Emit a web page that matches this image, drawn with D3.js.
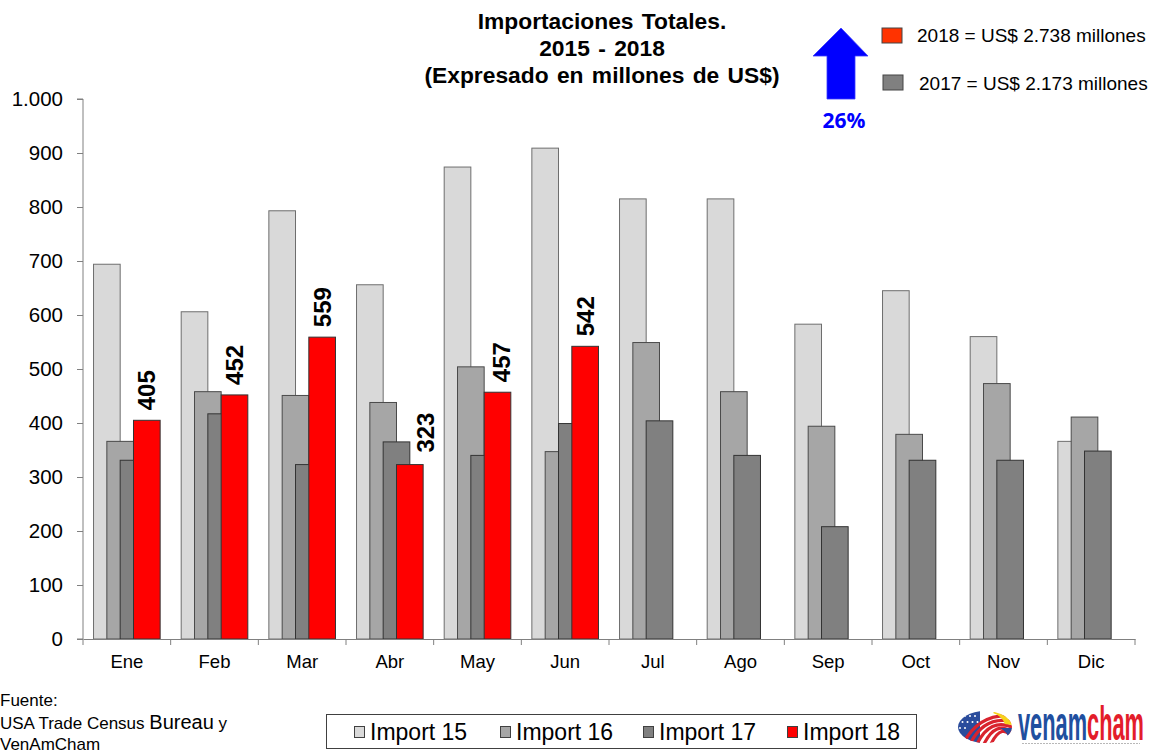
<!DOCTYPE html>
<html>
<head>
<meta charset="utf-8">
<script src="https://cdn.jsdelivr.net/npm/d3@7"></script>
<style>
  html, body { margin: 0; padding: 0; background: #fff; }
  svg { display: block; }
</style>
</head>
<body>
<svg id="chart" width="1153" height="754"></svg>
<script>
// ---------- DATA ----------
const months = ["Ene","Feb","Mar","Abr","May","Jun","Jul","Ago","Sep","Oct","Nov","Dic"];
const seriesNames = ["Import 15","Import 16","Import 17","Import 18"];
const import15 = [694, 606, 793, 656, 874, 909, 815, 815, 583, 645, 560, 366];
const import16 = [366, 458, 451, 438, 504, 347, 549, 458, 394, 379, 473, 411];
const import17 = [331, 417, 323, 365, 340, 399, 404, 340, 208, 331, 331, 348];
const import18 = [405, 452, 559, 323, 457, 542, null, null, null, null, null, null];
const yTicks = [0,100,200,300,400,500,600,700,800,900,1000];
const titleLines = ["Importaciones Totales.", "2015 - 2018", "(Expresado en millones de US$)"];
const summaryLabels = ["2018 = US$ 2.738 millones", "2017 = US$ 2.173 millones"];
const growthLabel = "26%";

// ---------- STYLE ----------
const fills = ["#d9d9d9", "#a6a6a6", "#808080", "#ff0000"];
const strokes = ["#6e6e6e", "#4a4a4a", "#333333", "#333333"];
const labelShift = {"Abr": 16, "May": 4};

const svg = d3.select("#chart");
const W = 1153, H = 754;
svg.append("rect").attr("width", W).attr("height", H).attr("fill", "#fff");

const plot = {left: 83, right: 1135, top: 99, bottom: 639};

const x = d3.scaleBand().domain(months).range([plot.left, plot.right]).padding(0);
const y = d3.scaleLinear().domain([0, 1000]).range([plot.bottom, plot.top]);

const locale = d3.formatLocale({decimal: ",", thousands: ".", grouping: [3], currency: ["US$", ""]});
const fmt = locale.format(",d");

const font = "Liberation Sans, Arial, sans-serif";

// ---------- BARS ----------
const allSeries = [import15, import16, import17, import18];
const barW = x.bandwidth() * 0.304;
const clusterW = barW * 2.5;
const offset = d3.scaleLinear().domain([0, 3]).range([0, barW * 1.5]);

allSeries.forEach((vals, si) => {
  const data = months.map((m, i) => ({m, v: vals[i]})).filter(d => d.v != null);
  svg.append("g").selectAll("rect").data(data).join("rect")
    .attr("x", d => x(d.m) + (x.bandwidth() - clusterW) / 2 + offset(si))
    .attr("y", d => y(d.v))
    .attr("width", barW)
    .attr("height", d => y(0) - y(d.v))
    .attr("fill", fills[si])
    .attr("stroke", strokes[si])
    .attr("stroke-width", 1);
});

// data labels for Import 18
const lblData = months.map((m, i) => ({m, v: import18[i]})).filter(d => d.v != null);
svg.append("g").selectAll("text").data(lblData).join("text")
  .attr("transform", d => {
    const cx = x(d.m) + (x.bandwidth() - clusterW) / 2 + offset(3) + barW / 2 + (labelShift[d.m] || 0);
    const ty = y(d.v) - 10 - (d.m === "Abr" ? 2 : 0);
    return `translate(${cx},${ty}) rotate(-90)`;
  })
  .attr("dy", "0.36em")
  .attr("text-anchor", "start")
  .attr("font-family", font)
  .attr("font-weight", "bold")
  .attr("font-size", 24)
  .attr("fill", "#000")
  .text(d => d.v);

// ---------- AXES ----------
const yAxis = d3.axisLeft(y).tickValues(yTicks).tickFormat(fmt).tickSize(6).tickPadding(14);
const gy = svg.append("g").attr("transform", `translate(${plot.left},0)`).call(yAxis);
gy.select(".domain").attr("stroke", "#808080").attr("d", `M-6,${plot.bottom}H0V${plot.top}H-6`);
gy.selectAll(".tick line").attr("stroke", "#808080");
gy.selectAll(".tick text").attr("font-family", font).attr("font-size", 20.5).attr("fill", "#000");

const xAxis = d3.axisBottom(x).tickSize(0).tickPadding(16);
const gx = svg.append("g").attr("transform", `translate(0,${plot.bottom})`).call(xAxis);
gx.select(".domain").attr("stroke", "#808080");
gx.selectAll(".tick text").attr("font-family", font).attr("font-size", 18.5).attr("fill", "#000");
// boundary ticks between categories
const bounds = months.map(m => x(m)).concat([x(months[months.length - 1]) + x.bandwidth()]);
gx.append("g").selectAll("line").data(bounds).join("line")
  .attr("x1", d => d).attr("x2", d => d)
  .attr("y1", 0).attr("y2", 6)
  .attr("stroke", "#808080");

// ---------- TITLE ----------
const title = svg.append("text")
  .attr("x", 602).attr("y", 29)
  .attr("text-anchor", "middle")
  .attr("font-family", font)
  .attr("font-weight", "bold")
  .attr("font-size", 22.8)
  .attr("fill", "#000");
titleLines.forEach((t, i) => {
  title.append("tspan").attr("x", 602).attr("y", 29 + i * 27).attr("word-spacing", 2).text(t);
});

// ---------- GROWTH ARROW ----------
svg.append("path")
  .attr("d", d3.line()([[841, 28], [868, 56], [855, 56], [855, 99], [827, 99], [827, 56], [813, 56]]) + "Z")
  .attr("fill", "#0000ff")
  .attr("stroke", "#3a3aff")
  .attr("stroke-width", 0.8);
svg.append("text")
  .attr("x", 844).attr("y", 128)
  .attr("text-anchor", "middle")
  .attr("font-family", "Open Sans, sans-serif")
  .attr("font-weight", "bold")
  .attr("font-size", 21)
  .attr("fill", "#0000ff")
  .text(growthLabel);

// ---------- SUMMARY LEGEND ----------
const sumColors = ["#ff3300", "#808080"];
const sumRows = [{yb: 28, ty: 42, sx: 882, tx: 917}, {yb: 75, ty: 90, sx: 883, tx: 919}];
summaryLabels.forEach((t, i) => {
  svg.append("rect").attr("x", sumRows[i].sx).attr("y", sumRows[i].yb)
    .attr("width", 20).attr("height", 15)
    .attr("fill", sumColors[i]).attr("stroke", "#444").attr("stroke-width", 1);
  svg.append("text").attr("x", sumRows[i].tx).attr("y", sumRows[i].ty)
    .attr("font-family", font).attr("font-size", 19).attr("fill", "#000").text(t);
});

// ---------- BOTTOM LEGEND ----------
svg.append("rect").attr("x", 326.5).attr("y", 714.5).attr("width", 590).attr("height", 34)
  .attr("fill", "#fff").attr("stroke", "#404040").attr("stroke-width", 1);
const legX = [354, 500, 643, 787];
seriesNames.forEach((n, i) => {
  svg.append("rect").attr("x", legX[i] + 0.5).attr("y", 726.5).attr("width", 10).attr("height", 11)
    .attr("fill", fills[i]).attr("stroke", "#404040").attr("stroke-width", 1);
  svg.append("text").attr("x", legX[i] + 16).attr("y", 740)
    .attr("font-family", font).attr("font-size", 23).attr("fill", "#000")
    .text(n);
});

// ---------- SOURCE NOTE ----------
const narrow = "Liberation Sans Narrow, Arial Narrow, sans-serif";
svg.append("text").attr("x", 0).attr("y", 706).attr("font-family", narrow).attr("font-size", 17).text("Fuente:");
const l2 = svg.append("text").attr("x", 0).attr("y", 729).attr("font-family", narrow).attr("font-size", 17);
l2.append("tspan").text("USA Trade Census ");
l2.append("tspan").attr("font-family", font).attr("font-size", 20).text("Bureau");
l2.append("tspan").text(" y");
svg.append("text").attr("x", 0).attr("y", 750).attr("font-family", narrow).attr("font-size", 17).text("VenAmCham");

// ---------- LOGO ----------
const logo = svg.append("g");
const defs = svg.append("defs");
defs.append("clipPath").attr("id", "ball").append("ellipse")
  .attr("cx", 985).attr("cy", 727).attr("rx", 27).attr("ry", 16);
const ball = logo.append("g").attr("clip-path", "url(#ball)");
ball.append("rect").attr("x", 956).attr("y", 710).attr("width", 58).attr("height", 34).attr("fill", "#fff");
ball.append("rect").attr("x", 956).attr("y", 710).attr("width", 24).attr("height", 34).attr("fill", "#2a4c9c");
for (let i = 0; i < 5; i++) {
  ball.append("path")
    .attr("d", `M${962 + i * 7},746 Q${978 + i * 6},${712 + i * 2} ${1014},${716 + i * 6}`)
    .attr("fill", "none").attr("stroke", "#d9232e").attr("stroke-width", 3.2);
}
ball.append("path").attr("d", "M995,711 Q1010,714 1013,725 L1005,724 Q1002,716 993,713Z").attr("fill", "#f6d21a");
ball.append("path").attr("d", "M1000,728 Q1010,733 1008,742 L1014,742 L1014,728Z").attr("fill", "#2a4c9c");
for (let i = 0; i < 10; i++) {
  ball.append("circle").attr("cx", 960 + (i % 4) * 5 + (Math.floor(i / 4) % 2) * 2.5).attr("cy", 716 + Math.floor(i / 4) * 6)
    .attr("r", 1).attr("fill", "#fff");
}
// wordmark: natural-width text squeezed horizontally with a transform
const wordG = logo.append("g").attr("transform", "translate(1018,740)");
const word = wordG.append("text")
  .attr("font-family", narrow).attr("font-weight", "bold").attr("font-size", 48);
word.append("tspan").attr("fill", "#1f4f9f").text("venam");
word.append("tspan").attr("fill", "#e31d2b").text("cham");
const natW = word.node().getComputedTextLength() || 220;
word.attr("transform", `scale(${126 / natW},1)`);
// tiny tagline under the wordmark (illegible in the reference), drawn as a faint rule
logo.append("line").attr("x1", 1022).attr("x2", 1140).attr("y1", 743.5).attr("y2", 743.5)
  .attr("stroke", "#b8b8b8").attr("stroke-width", 1).attr("stroke-dasharray", "2,1");
</script>
</body>
</html>
